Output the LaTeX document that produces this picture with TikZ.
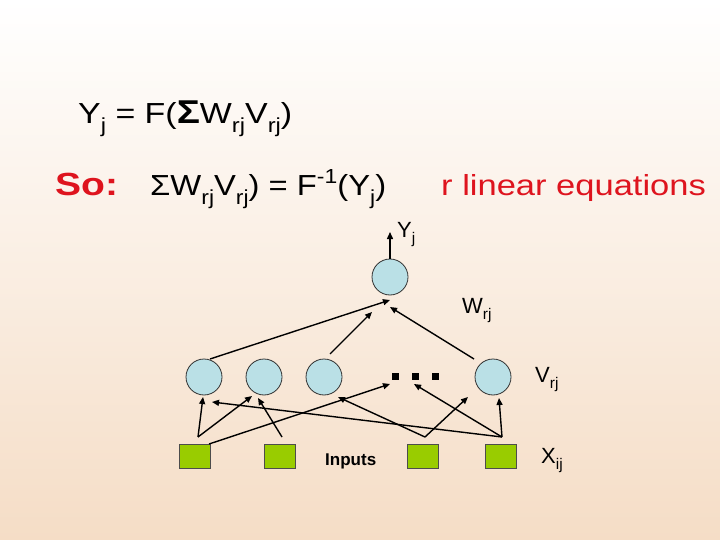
\documentclass[tikz,border=0pt]{standalone}
\usepackage{fontspec}
\setmainfont{Liberation Sans}
\usetikzlibrary{arrows.meta}
\definecolor{bgbot}{RGB}{245,221,198}
\definecolor{cfill}{RGB}{186,224,230}
\definecolor{sqfill}{RGB}{153,204,0}
\definecolor{redtxt}{RGB}{222,20,30}
\newcommand\sbs[1]{\raisebox{-0.3em}{\scalebox{0.7}{#1}}}
\newcommand\sps[1]{\raisebox{0.42em}{\scalebox{0.7}{#1}}}
\newcommand\wide[2]{\scalebox{#1}[1]{#2}}
\tikzset{
  neuron/.style={circle, draw=black!80, fill=cfill, minimum size=36pt, inner sep=0pt, line width=0.8pt},
  inbox/.style={rectangle, draw=black!70, fill=sqfill, minimum width=31pt, minimum height=24pt, inner sep=0pt, line width=0.8pt},
  dotbox/.style={rectangle, fill=black, minimum size=7pt, inner sep=0pt},
  conn/.style={line width=1.4pt, -{Triangle[length=7pt,width=6pt]}},
  lbl/.style={inner sep=0pt, anchor=base west},
}
\begin{document}
\begin{tikzpicture}[x=1pt,y=-1pt]
\useasboundingbox (0,0) rectangle (720,540);
\shade[top color=white, bottom color=bgbot] (0,0) rectangle (720,540);
% texts
\node[lbl, font=\fontsize{29}{30}\selectfont] (eq1) at (78,124) {\wide{1.17}{Y\sbs{j} = F({\fontsize{33}{33}\selectfont\bfseries Σ}W\sbs{rj}V\sbs{rj})}};
\node[lbl, font=\fontsize{32}{34}\selectfont\bfseries, text=redtxt] (so) at (55,196) {\wide{1.22}{So:}};
\node[lbl, font=\fontsize{29}{30}\selectfont] (eq2) at (150,196) {\wide{1.13}{ΣW\sbs{rj}V\sbs{rj}) = F\sps{-1}(Y\sbs{j})}};
\node[lbl, font=\fontsize{29}{30}\selectfont, text=redtxt] (rlin) at (441,196) {\wide{1.19}{r linear equations}};
% nodes
\node[neuron] (o) at (390,277) {};
\node[neuron] (h1) at (204,377) {};
\node[neuron] (h2) at (264,377) {};
\node[neuron] (h3) at (324,377) {};
\node[neuron] (h4) at (493,377) {};
\node[dotbox] (d1) at (395,376) {};
\node[dotbox] (d2) at (415,376) {};
\node[dotbox] (d3) at (435,376) {};
\node[inbox] (s1) at (195,456) {};
\node[inbox] (s2) at (280,456) {};
\node[inbox] (s3) at (423,456) {};
\node[inbox] (s4) at (501,456) {};
\node[lbl, font=\fontsize{22}{23}\selectfont] (yj) at (397,237) {Y\sbs{j}};
\node[lbl, font=\fontsize{22}{23}\selectfont] (wrj) at (462,313) {W\sbs{rj}};
\node[lbl, font=\fontsize{22}{23}\selectfont] (vrj) at (535,382) {V\sbs{rj}};
\node[lbl, font=\fontsize{22}{23}\selectfont] (xij) at (541,463) {X\sbs{ij}};
\node[lbl, font=\fontsize{17}{18}\selectfont\bfseries] (inp) at (325,465) {Inputs};
% coordinates
\coordinate (oTop) at (390,259);
\coordinate (oOut) at (390,232);
\coordinate (oIn1) at (390,300);
\coordinate (oIn3) at (372,312);
\coordinate (oIn4) at (390,307);
\coordinate (h1Out) at (210,359);
\coordinate (h3Out) at (330,354);
\coordinate (h4Out) at (474,359);
\coordinate (h1In) at (203,397);
\coordinate (h1InR) at (212,402);
\coordinate (h2InL) at (252,396);
\coordinate (h2In) at (258,398);
\coordinate (h3In) at (338,397);
\coordinate (h4InL) at (468,397);
\coordinate (h4In) at (499,398);
\coordinate (dIn1) at (390,384);
\coordinate (dIn2) at (414,384);
\coordinate (s1a) at (198,437);
\coordinate (s1b) at (209,444);
\coordinate (s2a) at (282,437);
\coordinate (s3a) at (425,437);
\coordinate (s4a) at (502,437);
% connectors
\draw[conn] (oTop) -- (oOut);
\draw[conn] (h1Out) -- (oIn1);
\draw[conn] (h3Out) -- (oIn3);
\draw[conn] (h4Out) -- (oIn4);
\draw[conn] (s1a) -- (h1In);
\draw[conn] (s1a) -- (h2InL);
\draw[conn] (s1b) -- (dIn1);
\draw[conn] (s2a) -- (h2In);
\draw[conn] (s3a) -- (h3In);
\draw[conn] (s3a) -- (h4InL);
\draw[conn] (s4a) -- (h4In);
\draw[conn] (s4a) -- (h1InR);
\draw[conn] (s4a) -- (dIn2);
\end{tikzpicture}
\end{document}
